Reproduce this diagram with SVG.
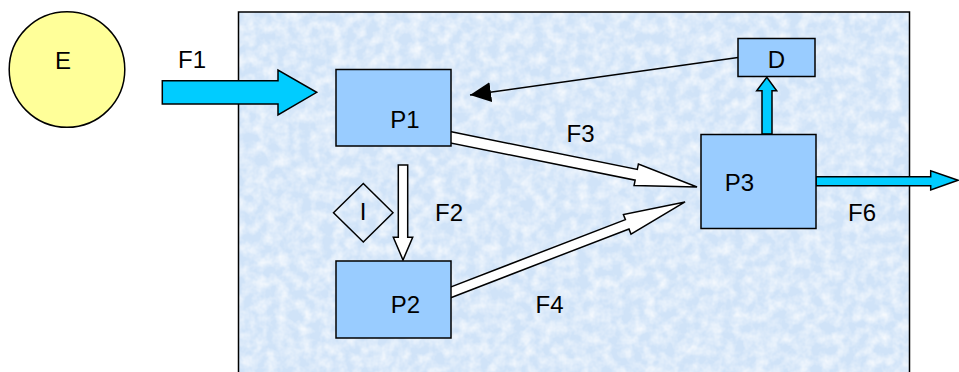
<svg xmlns="http://www.w3.org/2000/svg" width="959" height="372" viewBox="0 0 959 372">
  <style>
    .lbl { font-family: "Liberation Sans", Arial, sans-serif; font-size: 24px; fill: #000; text-anchor: middle; }
    .box { fill: #99ccff; stroke: #000; stroke-width: 1.5; }
    .flow { fill: #00ccff; stroke: #000; stroke-width: 1.5; stroke-linejoin: miter; }
    .hollow { fill: #ffffff; stroke: #000; stroke-width: 1.5; stroke-linejoin: miter; }
  </style>
  <defs>
    <filter id="mottle" x="0" y="0" width="100%" height="100%">
      <feTurbulence type="fractalNoise" baseFrequency="0.09" numOctaves="3" seed="7" result="n"/>
      <feColorMatrix in="n" type="matrix" values="0 0 0 0 1  0 0 0 0 1  0 0 0 0 1  0 0 0 1.3 -0.42" result="w"/>
      <feComposite in="w" in2="SourceGraphic" operator="in"/>
    </filter>
    <marker id="solidHead" markerUnits="userSpaceOnUse" markerWidth="22" markerHeight="22" refX="21" refY="10" orient="auto">
      <path d="M0,0 L21,10 L0,20 Z" fill="#000"/>
    </marker>
  </defs>

  <rect width="959" height="372" fill="#ffffff"/>

  <g id="boundary">
    <rect x="238.5" y="12" width="671" height="370" fill="#d0e3f8" stroke="none"/>
    <rect x="238.5" y="12" width="671" height="370" fill="#ffffff" filter="url(#mottle)"/>
    <rect x="238.5" y="12" width="671" height="370" fill="none" stroke="#000" stroke-width="1.5"/>
  </g>

  <g id="connectors">
    <g id="F1">
      <polygon class="flow" points="162.3,80.7 278,80.7 278,70 316.7,92.3 278,115 278,104 162.3,104"/>
      <text class="lbl" x="192" y="68">F1</text>
    </g>
    <g id="F2">
      <polygon class="hollow" points="398.3,165 407.7,165 407.7,237.3 412.7,237.3 403,260 393.3,237.3 398.3,237.3"/>
      <text class="lbl" x="449" y="221">F2</text>
    </g>
    <g id="F3">
      <polygon class="hollow" transform="translate(449,137) rotate(11.40)" points="0,-5.5 191,-5.5 191,-11 253,0 191,11 191,5.5 0,5.5"/>
      <text class="lbl" x="580.5" y="141.5">F3</text>
    </g>
    <g id="F4">
      <polygon class="hollow" transform="translate(449,293) rotate(-21.09)" points="0,-5 191,-5 191,-10.5 253,0 191,10.5 191,5 0,5"/>
      <text class="lbl" x="549.5" y="313">F4</text>
    </g>
    <g id="P3toD">
      <polygon class="flow" points="762,134 762,90.7 756.7,90.7 766.8,77.3 776.7,90.7 772,90.7 772,134"/>
    </g>
    <g id="F6">
      <polygon class="flow" points="816,176.7 930.7,176.7 930.7,170.7 958,180.3 930.7,190 930.7,185.7 816,185.7"/>
      <text class="lbl" x="862" y="220.5">F6</text>
    </g>
    <g id="DtoP1">
      <line x1="738" y1="57.5" x2="470" y2="95" stroke="#000" stroke-width="1.5" marker-end="url(#solidHead)"/>
    </g>
  </g>

  <g id="E">
    <circle cx="67" cy="69.5" r="57.8" fill="#ffff99" stroke="#000" stroke-width="1.5"/>
    <text class="lbl" x="63" y="68.5">E</text>
  </g>
  <g id="P1">
    <rect class="box" x="336" y="69.5" width="115" height="76.5"/>
    <text class="lbl" x="405" y="128.3">P1</text>
  </g>
  <g id="P2">
    <rect class="box" x="336" y="261" width="115" height="77"/>
    <text class="lbl" x="405.5" y="312.7">P2</text>
  </g>
  <g id="P3">
    <rect class="box" x="701" y="134.5" width="115" height="94"/>
    <text class="lbl" x="739.5" y="190.7">P3</text>
  </g>
  <g id="D">
    <rect class="box" x="738" y="38.5" width="77" height="38"/>
    <text class="lbl" x="776.5" y="68.3">D</text>
  </g>
  <g id="I">
    <polygon points="363.3,183.5 393,212.7 363.3,242 333.5,212.7" fill="none" stroke="#000" stroke-width="1.5"/>
    <text class="lbl" x="363" y="220">I</text>
  </g>
</svg>
